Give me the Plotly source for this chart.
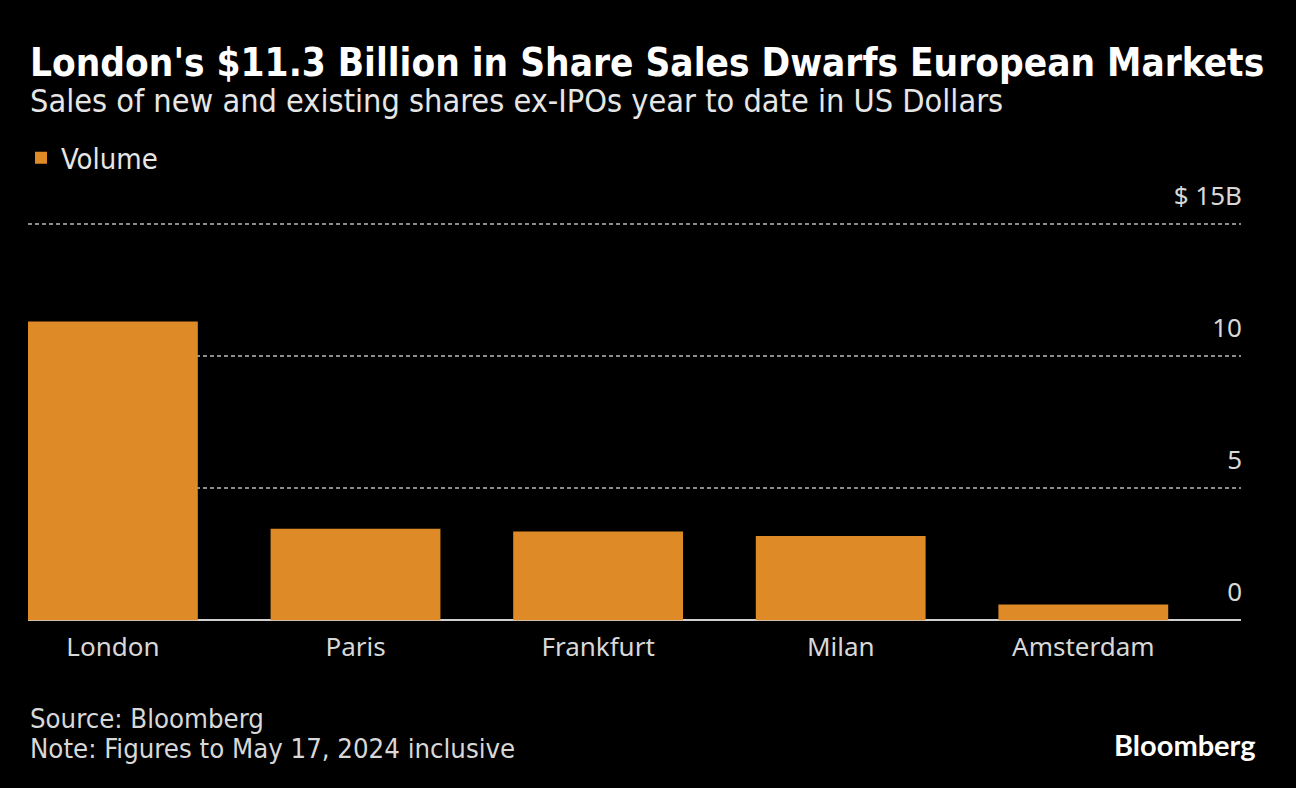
import plotly.graph_objects as go

cities = ["London", "Paris", "Frankfurt", "Milan", "Amsterdam"]
volume_bn = [11.3, 3.46, 3.35, 3.18, 0.59]
tick_vals = [0, 5, 10, 15]
tick_text = ["0", "5", "10", "$ 15B"]

title = "London's $11.3 Billion in Share Sales Dwarfs European Markets"
subtitle = "Sales of new and existing shares ex-IPOs year to date in US Dollars"
source = "Source: Bloomberg"
note = "Note: Figures to May 17, 2024 inclusive"

COND = "DejaVu Sans Condensed"
TICKF = "Noto Sans"
BAR = "#DE8A26"

fig = go.Figure()
fig.add_trace(go.Bar(x=cities, y=volume_bn, name="Volume", marker=dict(color=BAR, line=dict(width=0)), width=0.7))

W, H = 1296, 788
Y0, Y1 = -0.6, 16.8
UNIT = 26.43
ZERO_PX = 620
L, R = 28, 55
T = round(ZERO_PX - Y1 * UNIT)
B = round(H - (ZERO_PX - Y0 * UNIT))
pw, ph = W - L - R, H - T - B

def px(x):
    return (x - L) / pw

def py(y):
    return (H - B - y) / ph

fig.update_layout(
    width=W, height=H,
    paper_bgcolor="black", plot_bgcolor="black",
    margin=dict(l=L, r=R, t=T, b=B, pad=0),
    showlegend=True,
    legend=dict(x=px(21), y=py(158), xanchor="left", yanchor="middle", orientation="h",
                font=dict(family=COND, size=29, color="#e6e6e6"), bgcolor="rgba(0,0,0,0)"),
    xaxis=dict(range=[-0.35, 4.65], showgrid=False, showline=False,
               ticks="", ticklabelstandoff=-7,
               tickfont=dict(family=TICKF, size=26, color="#d8d8d8")),
    yaxis=dict(range=[Y0, Y1], side="right", tickvals=tick_vals, ticktext=tick_text,
               ticklabelposition="inside", ticklabelshift=-28, ticklabelstandoff=-4,
               showgrid=True, gridcolor="#8c8c8c", griddash="4px,3px", gridwidth=1.5,
               zeroline=True, zerolinecolor="#cfcfcf", zerolinewidth=2,
               showline=False, ticks="",
               tickfont=dict(family=TICKF, size=26, color="#d8d8d8")),
    annotations=[
        dict(text=f"<b>{title}</b>", x=px(28), y=py(62), xref="paper", yref="paper", xanchor="left", yanchor="middle",
             showarrow=False, font=dict(family=COND, size=38.4, color="white")),
        dict(text=subtitle, x=px(28), y=py(101), xref="paper", yref="paper", xanchor="left", yanchor="middle",
             showarrow=False, font=dict(family=COND, size=32.2, color="#e6e6e6")),
        dict(text=source, x=px(28), y=py(718), xref="paper", yref="paper", xanchor="left", yanchor="middle",
             showarrow=False, font=dict(family=COND, size=27.3, color="#d8d8d8")),
        dict(text=note, x=px(28), y=py(748), xref="paper", yref="paper", xanchor="left", yanchor="middle",
             showarrow=False, font=dict(family=COND, size=27.3, color="#d8d8d8")),
        dict(text="<b>Bloomberg</b>", x=px(1258), y=py(744), xref="paper", yref="paper", xanchor="right", yanchor="middle",
             showarrow=False, font=dict(family="Lato", size=29, color="white")),
    ],
)
fig.write_html("out.html", config={"displayModeBar": False},
               post_script="document.body.style.margin='0px';")
